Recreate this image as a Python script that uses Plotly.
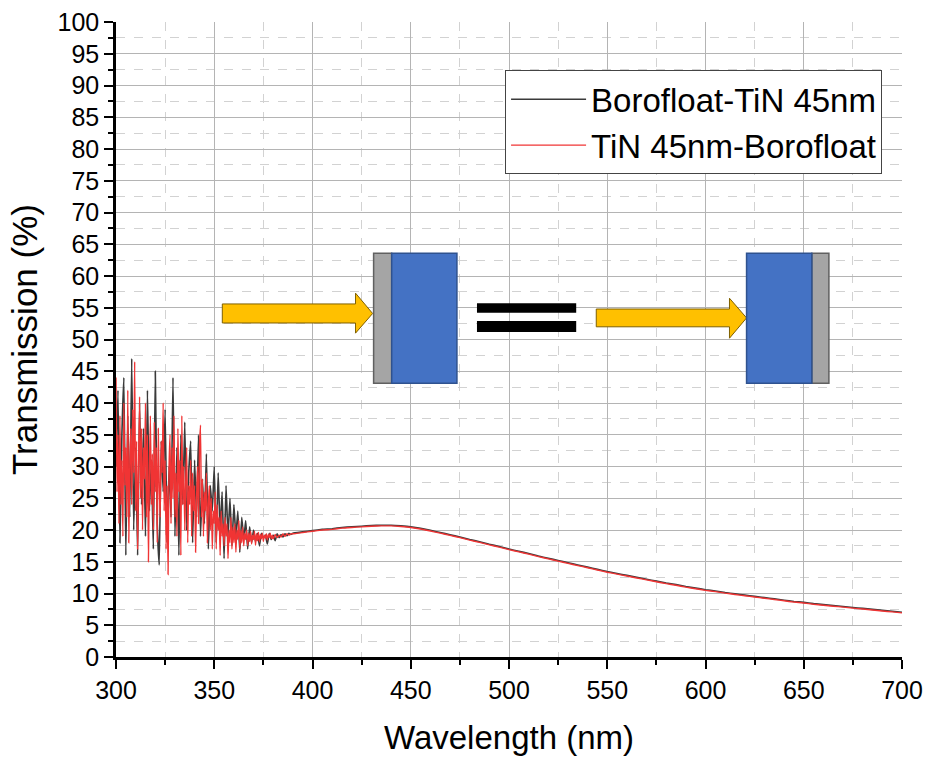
import plotly.graph_objects as go

# ---------------- data ----------------
# Borofloat-TiN 45nm (black): 1 nm steps in the noisy UV region
wl_black_noisy = list(range(300, 390))
black_noisy = [30, 42, 18, 35, 44, 16, 38, 22, 47, 20,
               33, 16, 40, 24, 36, 19, 42, 23, 31, 17,
               45, 21, 14.5, 34, 26, 39, 18, 30, 22, 44,
               19, 33, 16, 35, 24, 37, 20, 29, 34, 18,
               31, 22, 35, 19, 28, 21, 32, 17, 27, 23,
               30, 18, 29, 20, 26, 15.5, 27, 19, 25, 17.5,
               24, 19, 23, 16.5, 22, 18.5, 21.5, 17, 20.5, 18,
               20, 18.2, 19.5, 17.5, 19.5, 18.8, 19.2, 17.8, 19.5, 18.5,
               19.2, 18.3, 19.4, 18.8, 19.3, 18.9, 19.4, 19.1, 19.5, 19.3]

# TiN 45nm-Borofloat (red): 0.5 nm steps 300-379.5, then 1 nm to 389
wl_red_noisy = [300 + 0.5 * i for i in range(160)] + list(range(380, 390))
red_noisy = [44, 26, 35, 21, 38, 24, 31, 19, 40, 27,
             33, 22, 42, 18, 30, 36, 24, 39, 29, 46.5,
             23, 34, 17, 30, 41, 25, 36, 20, 33, 28,
             40, 22, 35, 15, 29, 38, 24, 32, 20, 37,
             26, 33, 18, 36, 27, 22, 34, 29, 40, 23,
             31, 17, 27, 13, 30, 35, 21, 33, 25, 38,
             22, 29, 19, 36, 26, 31, 16, 38, 24, 30,
             20, 28, 33, 18, 27, 24, 31, 19, 29, 23,
             27, 16.5, 25, 30, 21, 33, 36.5, 22, 28, 19,
             26, 23, 29, 18, 24, 27, 20, 25, 17, 23,
             21, 26, 17, 24, 20, 22, 16, 23, 19, 21,
             17.5, 22, 19, 21, 15.5, 20, 18, 22, 17, 20.5,
             18, 21, 16.5, 20, 18.5, 21.5, 17, 20, 18, 20.5,
             17.5, 19.5, 18.5, 20, 17.5, 19.5, 18.2, 19.8, 17.8, 19.2,
             18.5, 19.8, 17.6, 19.4, 18.3, 19.6, 18.1, 19.3, 18.6, 19.5,
             18.2, 19.2, 18.7, 19.4, 18.4, 19.3, 18.8, 19.5, 18.6, 19.2,
             18.6, 19.3, 18.8, 19.2, 18.9, 19.4, 19.0, 19.4, 19.2, 19.4]

wl_smooth = list(range(390, 705, 5))
smooth_red = [19.4, 19.6, 19.8, 20.0, 20.1, 20.3, 20.4, 20.5, 20.6, 20.65,
              20.65, 20.55, 20.4, 20.15, 19.85, 19.5, 19.15, 18.8, 18.4, 18.05,
              17.65, 17.3, 16.9, 16.55, 16.2, 15.8, 15.45, 15.1, 14.75, 14.4,
              14.05, 13.7, 13.35, 13.05, 12.75, 12.45, 12.15, 11.85, 11.55, 11.3,
              11.0, 10.75, 10.5, 10.3, 10.05, 9.85, 9.65, 9.45, 9.25, 9.05,
              8.85, 8.65, 8.5, 8.3, 8.15, 8.0, 7.85, 7.7, 7.55, 7.4,
              7.25, 7.1, 6.95]
smooth_black = [19.5, 19.7, 19.9, 20.1, 20.2, 20.4, 20.5, 20.6, 20.7, 20.75,
                20.75, 20.65, 20.5, 20.25, 19.95, 19.6, 19.25, 18.9, 18.5, 18.15,
                17.75, 17.4, 17.0, 16.65, 16.3, 15.9, 15.55, 15.2, 14.85, 14.5,
                14.15, 13.8, 13.45, 13.15, 12.85, 12.55, 12.25, 11.95, 11.65, 11.4,
                11.1, 10.85, 10.6, 10.4, 10.15, 9.95, 9.75, 9.55, 9.35, 9.15,
                8.95, 8.75, 8.6, 8.4, 8.25, 8.1, 7.95, 7.8, 7.65, 7.5,
                7.35, 7.2, 7.05]

names = ["Borofloat-TiN 45nm", "TiN 45nm-Borofloat"]
x_ticks = [300, 350, 400, 450, 500, 550, 600, 650, 700]
y_ticks = list(range(0, 105, 5))

# ---------------- figure ----------------
fig = go.Figure()
fig.add_trace(go.Scatter(x=wl_black_noisy + wl_smooth, y=black_noisy + smooth_black,
                         mode="lines", name=names[0], line_shape="spline",
                         line=dict(color="#3a3a3a", width=1.6, smoothing=0.3)))
fig.add_trace(go.Scatter(x=wl_red_noisy + wl_smooth, y=red_noisy + smooth_red,
                         mode="lines", name=names[1], line_shape="spline",
                         line=dict(color="#f03434", width=1.4, smoothing=0.3)))

shapes = []
arrow_fill = "#FFC000"
arrow_line = "#7F6000"
# left arrow
shapes.append(dict(type="path", xref="x", yref="y",
                   path="M 354.1 55.6 L 421.9 55.6 L 421.9 57.3 L 430.6 54.1 L 421.9 51.0 L 421.9 52.6 L 354.1 52.6 Z",
                   fillcolor=arrow_fill, line=dict(color=arrow_line, width=1)))
# left block
shapes.append(dict(type="rect", xref="x", yref="y", x0=431.1, x1=440.3, y0=43.1, y1=63.6,
                   fillcolor="#A5A5A5", line=dict(color="#606060", width=1.5)))
shapes.append(dict(type="rect", xref="x", yref="y", x0=440.3, x1=473.5, y0=43.1, y1=63.6,
                   fillcolor="#4472C4", line=dict(color="#2F528F", width=1.5)))
# equals sign
shapes.append(dict(type="rect", xref="x", yref="y", x0=483.7, x1=534.2, y0=54.2, y1=55.7,
                   fillcolor="black", line=dict(width=0)))
shapes.append(dict(type="rect", xref="x", yref="y", x0=483.7, x1=534.2, y0=51.2, y1=52.9,
                   fillcolor="black", line=dict(width=0)))
# right arrow
shapes.append(dict(type="path", xref="x", yref="y",
                   path="M 544.4 54.8 L 612.2 54.8 L 612.2 56.5 L 620.9 53.4 L 612.2 50.2 L 612.2 52.0 L 544.4 52.0 Z",
                   fillcolor=arrow_fill, line=dict(color=arrow_line, width=1)))
# right block
shapes.append(dict(type="rect", xref="x", yref="y", x0=654.1, x1=662.8, y0=43.1, y1=63.6,
                   fillcolor="#A5A5A5", line=dict(color="#606060", width=1.5)))
shapes.append(dict(type="rect", xref="x", yref="y", x0=620.9, x1=654.1, y0=43.1, y1=63.6,
                   fillcolor="#4472C4", line=dict(color="#2F528F", width=1.5)))

fig.update_layout(
    width=926, height=757,
    margin=dict(l=116, r=24, t=22, b=100),
    paper_bgcolor="white", plot_bgcolor="white",
    font=dict(family="Liberation Sans, Arial, sans-serif", color="black"),
    shapes=shapes,
    showlegend=True,
    legend=dict(x=0.495, y=0.924, xanchor="left", yanchor="top",
                bgcolor="white", bordercolor="#444", borderwidth=1,
                font=dict(size=33), tracegroupgap=0, itemwidth=75),
    xaxis=dict(range=[300, 700], tickvals=x_ticks, ticks="outside", ticklen=9, tickwidth=2,
               tickcolor="black", showline=True, linecolor="black", linewidth=2.5,
               showgrid=True, gridcolor="#b4b4b4", gridwidth=1, zeroline=False,
               automargin=False, tickfont=dict(size=25),
               title=dict(text="Wavelength (nm)", font=dict(size=33), standoff=24),
               minor=dict(dtick=25, tick0=325, ticks="outside", ticklen=5, tickwidth=2,
                          tickcolor="black", showgrid=True, gridcolor="#d2d2d2",
                          griddash="dash", gridwidth=1)),
    yaxis=dict(range=[0, 100], tickvals=y_ticks, ticks="outside", ticklen=9, tickwidth=2,
               tickcolor="black", showline=True, linecolor="black", linewidth=2.5,
               showgrid=True, gridcolor="#b4b4b4", gridwidth=1, zeroline=False,
               automargin=False, tickfont=dict(size=25),
               title=dict(text="Transmission (%)", font=dict(size=35), standoff=10),
               minor=dict(dtick=5, tick0=2.5, ticks="outside", ticklen=5, tickwidth=2,
                          tickcolor="black", showgrid=True, gridcolor="#d2d2d2",
                          griddash="dash", gridwidth=1)),
)

fig.write_html("out.html")
